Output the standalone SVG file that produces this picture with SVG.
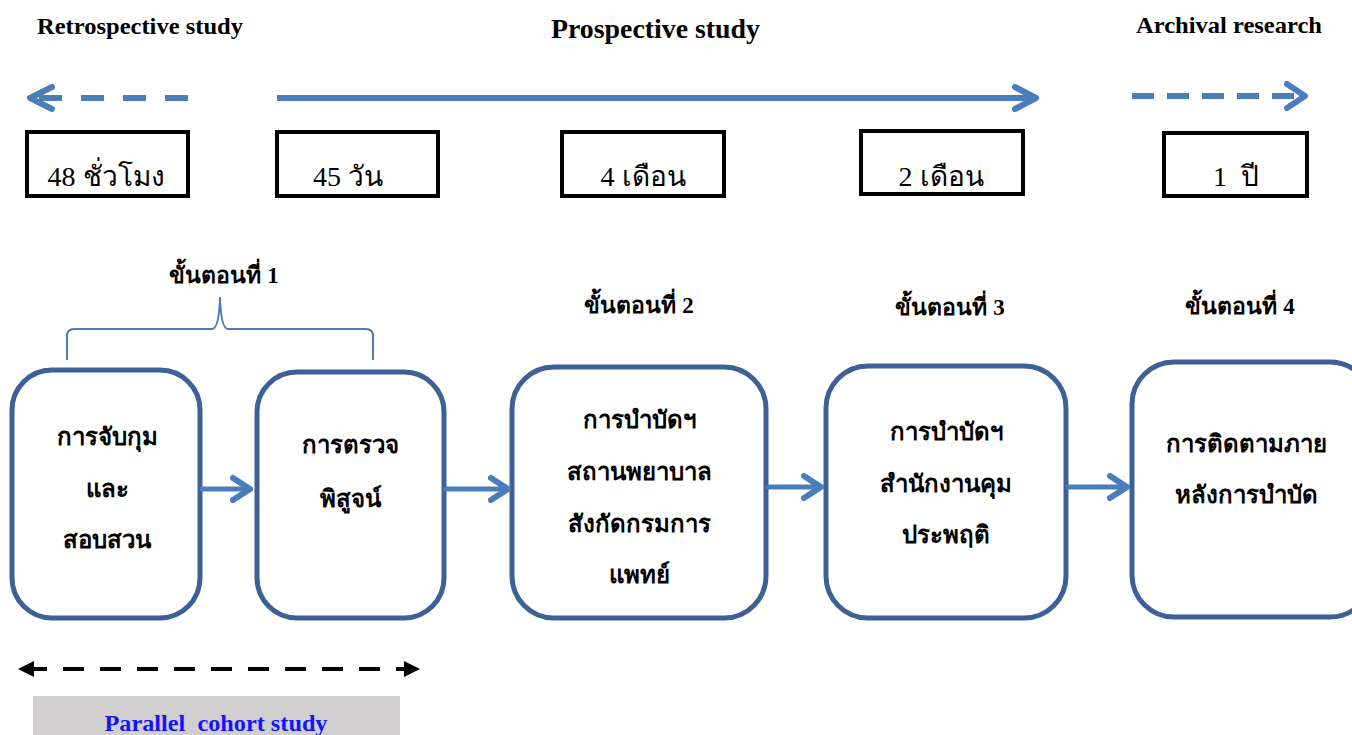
<svg xmlns="http://www.w3.org/2000/svg" width="1352" height="735" viewBox="0 0 1352 735">
<defs>
<style>
.hdr{font-family:"Liberation Serif",serif;font-weight:bold;fill:#000}
.dur{font-family:"Liberation Serif",serif;font-size:28px;fill:#000;text-anchor:middle}
.durbox{fill:#fff;stroke:#000;stroke-width:4}
.stage{font-family:"Liberation Serif",serif;font-weight:bold;font-size:23px;fill:#000;text-anchor:middle}
.node rect{fill:#fff;stroke:#3d6196;stroke-width:5}
.node text{font-family:"Liberation Serif",serif;font-weight:bold;font-size:24px;fill:#000;text-anchor:middle}
.conn{stroke:#4a7ebb;stroke-width:5;fill:none;stroke-linecap:round;stroke-linejoin:round}
.head{stroke:#4a7ebb;stroke-width:6;fill:none;stroke-linecap:round;stroke-linejoin:round}
</style>
<marker id="tri" viewBox="0 0 10 10" refX="5" refY="5" markerWidth="4" markerHeight="4" orient="auto-start-reverse" markerUnits="strokeWidth">
<path d="M0,0 L10,5 L0,10 z" fill="#000"/>
</marker>
</defs>
<rect width="1352" height="735" fill="#fff"/>

<!-- top headers -->
<text class="hdr" x="37" y="34" font-size="24" textLength="206" lengthAdjust="spacingAndGlyphs">Retrospective study</text>
<text class="hdr" x="551" y="38" font-size="27" textLength="209" lengthAdjust="spacingAndGlyphs">Prospective study</text>
<text class="hdr" x="1136" y="33" font-size="24" textLength="186" lengthAdjust="spacingAndGlyphs">Archival research</text>

<!-- timeline arrows -->
<g id="timeline">
<line x1="188" y1="98" x2="30" y2="98" stroke="#4a7ebb" stroke-width="6" stroke-dasharray="23 19"/>
<polyline class="head" points="52,87 30,98 52,109"/>
<line x1="277" y1="98" x2="1036" y2="98" stroke="#4a7ebb" stroke-width="6"/>
<polyline class="head" points="1015,87 1036,98 1015,109"/>
<line x1="1132" y1="96" x2="1305" y2="96" stroke="#4a7ebb" stroke-width="6" stroke-dasharray="22 13"/>
<polyline class="head" points="1287,84 1305,96 1287,108"/>
</g>

<!-- duration boxes -->
<g id="d1"><rect class="durbox" x="27" y="132" width="161" height="64"/><text class="dur" x="106" y="186">48 ชั่วโมง</text></g>
<g id="d2"><rect class="durbox" x="277" y="132" width="161" height="64"/><text class="dur" x="348" y="186">45 วัน</text></g>
<g id="d3"><rect class="durbox" x="562" y="132" width="162" height="64"/><text class="dur" x="643" y="186">4 เดือน</text></g>
<g id="d4"><text class="dur" x="941" y="186">2 เดือน</text><rect x="861" y="131" width="162" height="63" fill="none" stroke="#000" stroke-width="4"/></g>
<g id="d5"><rect class="durbox" x="1164" y="133" width="143" height="63"/><text class="dur" x="1236" y="186" xml:space="preserve">1  ปี</text></g>

<!-- stage labels -->
<text class="stage" x="224" y="283">ขั้นตอนที่ 1</text>
<text class="stage" x="639" y="313">ขั้นตอนที่ 2</text>
<text class="stage" x="950" y="315">ขั้นตอนที่ 3</text>
<text class="stage" x="1240" y="314">ขั้นตอนที่ 4</text>

<!-- brace -->
<path d="M67,360 L67,336 Q67,329 74,329 L212,329 Q219,329 220,297 Q221,329 228,329 L366,329 Q373,329 373,336 L373,360" fill="none" stroke="#4a7ebb" stroke-width="2"/>

<!-- nodes -->
<g id="n1" class="node"><rect x="12" y="370" width="188" height="248" rx="40"/>
<text x="107" y="445">การจับกุม</text><text x="107" y="497">และ</text><text x="107" y="548">สอบสวน</text></g>
<g id="n2" class="node"><rect x="257" y="372" width="187" height="246" rx="40"/>
<text x="350" y="453">การตรวจ</text><text x="350" y="507">พิสูจน์</text></g>
<g id="n3" class="node"><rect x="512" y="367" width="254" height="251" rx="42"/>
<text x="639" y="428">การบำบัดฯ</text><text x="639" y="480">สถานพยาบาล</text><text x="639" y="532">สังกัดกรมการ</text><text x="639" y="583">แพทย์</text></g>
<g id="n4" class="node"><rect x="826" y="366" width="240" height="252" rx="42"/>
<text x="946" y="440">การบำบัดฯ</text><text x="946" y="492">สำนักงานคุม</text><text x="946" y="543">ประพฤติ</text></g>
<g id="n5" class="node"><rect x="1132" y="362" width="240" height="255" rx="42"/>
<text x="1246" y="452">การติดตามภาย</text><text x="1246" y="503">หลังการบำบัด</text></g>

<!-- connectors -->
<g id="connectors">
<line class="conn" x1="202" y1="489" x2="250" y2="489"/><polyline class="head" points="233,478 250,489 233,500"/>
<line class="conn" x1="446" y1="489" x2="508" y2="489"/><polyline class="head" points="491,478 508,489 491,500"/>
<line class="conn" x1="768" y1="487" x2="821" y2="487"/><polyline class="head" points="804,476 821,487 804,498"/>
<line class="conn" x1="1068" y1="487" x2="1127" y2="487"/><polyline class="head" points="1110,476 1127,487 1110,498"/>
</g>

<!-- parallel cohort -->
<line x1="26" y1="669" x2="412" y2="669" stroke="#000" stroke-width="4" stroke-dasharray="21 16" marker-start="url(#tri)" marker-end="url(#tri)"/>
<rect x="33" y="696" width="367" height="39" fill="#d0cece"/>
<text x="216" y="731" font-family="Liberation Serif, serif" font-weight="bold" font-size="24" fill="#1414ff" text-anchor="middle" textLength="223" lengthAdjust="spacingAndGlyphs" xml:space="preserve">Parallel  cohort study</text>
</svg>
